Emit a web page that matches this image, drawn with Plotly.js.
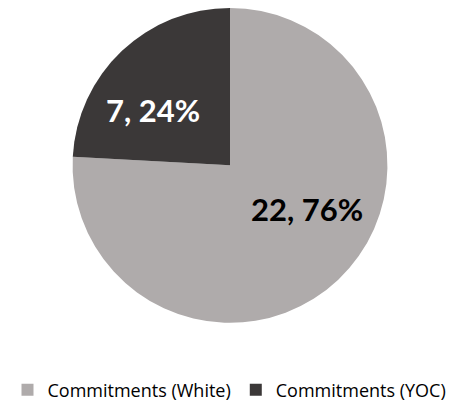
<!DOCTYPE html>
<html>
<head>
<meta charset="utf-8">
<script src="https://cdn.plot.ly/plotly-3.0.1.min.js"></script>
<style>html,body{margin:0;padding:0;background:#fff;}#chart{width:459px;height:409px;}</style>
</head>
<body>
<div id="chart"></div>
<script>
const categories = ["Commitments (White)", "Commitments (YOC)"];
const values = [22, 7];
const colors = ["#AFABAB", "#3B3838"];
const textColors = ["#000000", "#FFFFFF"];

const W = 459, H = 409;
const domX = [71 / W, 389 / W], domY = [1 - 326 / H, 1 - 8 / H];

// label placement inside slices (style constants)
const labelAngleShift = -13.5; // degrees, relative to slice mid-angle
const labelRadiusFrac = 0.58;
const labelYShift = 6;

const total = values.reduce((a, b) => a + b, 0);
const cx = (domX[0] + domX[1]) / 2, cy = (domY[0] + domY[1]) / 2;
const rPx = (domX[1] - domX[0]) * W / 2;
const annotations = [];
let cum = 0;
values.forEach((v, i) => {
  const mid = (cum + v / 2) / total * 360 + labelAngleShift;
  cum += v;
  const rad = mid * Math.PI / 180;
  const dxPx = rPx * labelRadiusFrac * Math.sin(rad);
  const dyPx = rPx * labelRadiusFrac * Math.cos(rad);
  annotations.push({
    xref: "paper", yref: "paper",
    x: cx + dxPx / W, y: cy + dyPx / H,
    xanchor: "center", yanchor: "middle",
    yshift: labelYShift,
    showarrow: false,
    text: "<b>" + v + ", " + Math.round(v / total * 100) + "%</b>",
    font: {family: "Lato, sans-serif", size: 31, color: textColors[i]}
  });
});

const trace = {
  type: "pie",
  labels: categories,
  values: values,
  sort: false,
  direction: "clockwise",
  rotation: 0,
  marker: {colors: colors, line: {width: 0}},
  textinfo: "none",
  hoverinfo: "none",
  domain: {x: domX, y: domY}
};
const layout = {
  width: W, height: H,
  margin: {l: 0, r: 0, t: 0, b: 0},
  paper_bgcolor: "#fff",
  showlegend: true,
  annotations: annotations,
  legend: {
    orientation: "h", x: 0.5, xanchor: "center", y: 1 - 394 / H, yanchor: "middle",
    font: {family: "Open Sans, sans-serif", size: 18, color: "#000"},
    itemwidth: 30
  }
};
Plotly.newPlot("chart", [trace], layout, {displayModeBar: false, staticPlot: true});
</script>
</body>
</html>
